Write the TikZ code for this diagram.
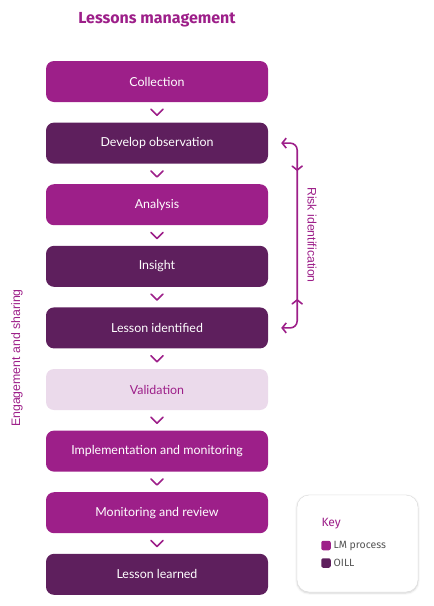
\documentclass[tikz,border=0pt]{standalone}
\usepackage{fontspec}
\setmainfont{Fira Sans}
\newfontfamily\boxf{Lato}
\newfontfamily\arialf{Liberation Sans}
\usetikzlibrary{arrows.meta,calc,shadows.blur}
\definecolor{lmc}{HTML}{9D1F89}
\definecolor{oill}{HTML}{5E1F5D}
\definecolor{valbg}{HTML}{EBDAEB}
\definecolor{keytxt}{HTML}{555555}
\tikzset{
  stepbox/.style={rounded corners=8pt, minimum width=222pt, minimum height=41pt, inner sep=0pt, font=\boxf\fontsize{12.4}{15}\selectfont},
  lm/.style={stepbox, fill=lmc, text=white},
  oi/.style={stepbox, fill=oill, text=white},
  va/.style={stepbox, fill=valbg, text=lmc},
  chev/.style={draw=lmc, line width=1.6pt, line cap=round, line join=round},
  bracket/.style={draw=lmc, line width=1.6pt, rounded corners=7pt, line cap=round},
  sidelabel/.style={text=lmc, font=\arialf\fontsize{12.3}{14}\selectfont},
}
\begin{document}
\begin{tikzpicture}[x=1pt,y=-1pt]
\useasboundingbox (0,0) rectangle (434,606);
\node[text=lmc, font=\fontsize{16}{18}\selectfont\bfseries] (title) at (157,20) {Lessons management};
\node[lm] (n1) at (157,81.5) {\raisebox{-0.8pt}{Collection}};
\node[oi] (n2) at (157,143.1) {\raisebox{-0.8pt}{Develop observation}};
\node[lm] (n3) at (157,204.7) {\raisebox{-0.8pt}{Analysis}};
\node[oi] (n4) at (157,266.3) {\raisebox{-0.8pt}{Insight}};
\node[oi] (n5) at (157,327.9) {\raisebox{-0.8pt}{Lesson identified}};
\node[va] (n6) at (157,389.5) {\raisebox{-0.8pt}{Validation}};
\node[lm] (n7) at (157,451.1) {\raisebox{-0.8pt}{Implementation and monitoring}};
\node[lm] (n8) at (157,512.7) {\raisebox{-0.8pt}{Monitoring and review}};
\node[oi] (n9) at (157,574.3) {\raisebox{-0.8pt}{Lesson learned}};
\foreach \a/\b in {n1/n2,n2/n3,n3/n4,n4/n5,n5/n6,n6/n7,n7/n8,n8/n9}{
  \coordinate (m) at ($(\a.south)!0.5!(\b.north)$);
  \draw[chev] ($(m)+(-6,-3)$) -- ($(m)+(0,3)$) -- ($(m)+(6,-3)$);
}
% risk identification bracket
\coordinate (rt) at ($(n2.east)+(13,0)$);
\coordinate (rb) at ($(n5.east)+(13,0)$);
\draw[bracket, {Straight Barb[length=4pt,width=10pt]}-{Straight Barb[length=4pt,width=10pt]}]
  (rt) -- ++(16,0) |- (rb);
\coordinate (c1) at ($(rt)+(16,27)$);
\coordinate (c2) at ($(rb)+(16,-28)$);
\draw[chev] ($(c1)+(-5,-4)$) -- (c1) -- ($(c1)+(5,-4)$);
\draw[chev] ($(c2)+(-5,4)$) -- (c2) -- ($(c2)+(5,4)$);
\node[sidelabel, rotate=-90] (risk) at (312,235) {Risk identification};
\node[sidelabel, rotate=90] (eng) at (17,358) {Engagement and sharing};
% key
\node[draw=black!15, fill=white, rounded corners=12pt, minimum width=121pt, minimum height=97pt, blur shadow={shadow blur steps=6, shadow xshift=0pt, shadow yshift=-1pt, shadow opacity=18}] (key) at (357.5,543.5) {};
\node[text=lmc, anchor=west, font=\fontsize{12}{14}\selectfont] (keyt) at (318,524) {Key};
\node[fill=lmc, rounded corners=2pt, minimum size=9.5pt, inner sep=0pt] (k1) at (326,545.5) {};
\node[fill=oill, rounded corners=2pt, minimum size=9.5pt, inner sep=0pt] (k2) at (326,563) {};
\node[anchor=west, text=keytxt, font=\fontsize{10.5}{12}\selectfont, inner sep=0pt] (k1t) at ($(k1.east)+(2.5,0)$) {LM process};
\node[anchor=west, text=keytxt, font=\fontsize{10.5}{12}\selectfont, inner sep=0pt] (k2t) at ($(k2.east)+(2.5,0)$) {OILL};
\end{tikzpicture}
\end{document}
